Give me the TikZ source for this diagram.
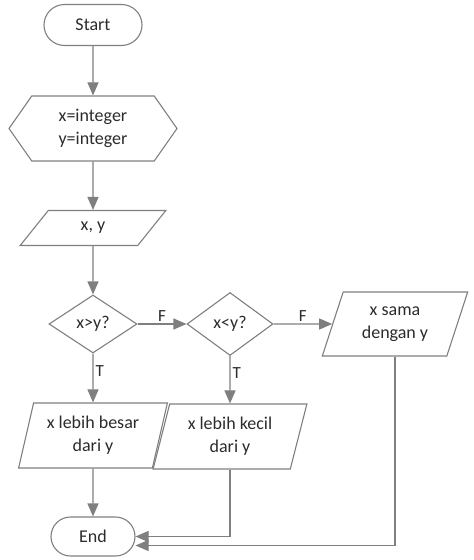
\documentclass[tikz,border=0pt]{standalone}
\usepackage{fontspec}
\setmainfont{Carlito}
\usetikzlibrary{shapes.geometric,shapes.misc,shapes.symbols,arrows.meta}
\definecolor{linegray}{HTML}{7F7F7F}
\definecolor{textgray}{HTML}{2B2B2B}
\tikzset{
    base/.style={draw=linegray, line width=1.1pt, text=textgray, align=center, inner sep=2pt,
        font=\fontsize{18}{23}\selectfont},
    term/.style={base, rounded rectangle, minimum width=#1, minimum height=41pt},
    prep/.style={base, signal, signal to=west and east, signal pointer angle=110,
        minimum width=168pt, minimum height=65pt},
    io/.style={base, trapezium, trapezium stretches=true, trapezium left angle=#1,
        trapezium right angle=180-#1},
    decide/.style={base, diamond, aspect=1.5, minimum width=88pt},
    arr/.style={draw=linegray, line width=1.1pt, -{Triangle[length=13pt, width=11pt]}},
    lbl/.style={text=textgray, inner sep=2pt, font=\fontsize{17}{20}\selectfont}
}
\begin{document}
\begin{tikzpicture}[x=1pt, y=-1pt]
        \pgfmathsetmacro{\cA}{93};
        \pgfmathsetmacro{\cB}{230};
        \pgfmathsetmacro{\cC}{395};
        \useasboundingbox (0, 0) rectangle (474, 560);
        \node[term=102pt] (start) at (\cA, 25) {Start};
        \node[prep] (init) at (\cA, 128.5) {x=integer\\y=integer};
        \node[io=60, minimum width=146pt, minimum height=35pt] (input) at (\cA, 228) {x, y};
        \node[decide, minimum height=58pt] (gt) at (\cA, 324) {x>y?};
        \node[decide, minimum width=86pt, minimum height=63pt] (lt) at (\cB, 324) {x<y?};
        \node[io=70, minimum width=146pt, minimum height=64pt] (same) at (\cC, 324) {x sama\\dengan y};
        \node[io=74, minimum width=149pt, minimum height=65pt] (bigger) at (\cA, 435.5) {x lebih besar\\dari y};
        \node[io=74, minimum width=154pt, minimum height=65pt] (smaller) at (\cB, 436.5) {x lebih kecil\\dari y};
        \node[term=88pt, minimum height=39pt] (stop) at (\cA, 536.5) {End};
        \coordinate (stoplow) at ([yshift=-9pt]stop.east);
        \draw[arr] (start) -- (init);
        \draw[arr] (init) -- (input);
        \draw[arr] (input) -- (gt);
        \draw[arr] (gt) -- node[lbl, above] (gtF) {F} (lt);
        \draw[arr] (lt) -- node[lbl, above] (ltF) {F} (same);
        \draw[arr] (gt) -- node[lbl, right, pos=0.35] (gtT) {T} (bigger);
        \draw[arr] (lt) -- node[lbl, right, pos=0.35] (ltT) {T} (smaller);
        \draw[arr] (bigger) -- (stop);
        \draw[arr] (smaller.south) |- (stop.east);
        \draw[arr] (same.south) |- (stoplow);
    \end{tikzpicture}
\end{document}
